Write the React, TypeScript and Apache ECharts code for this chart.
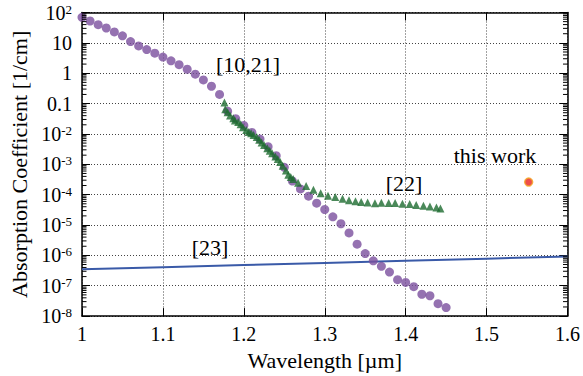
import React, { useEffect, useRef } from "react";
import * as echarts from "echarts";

// ---- data ----
const purpleX = [1.00, 1.01, 1.02, 1.03, 1.04, 1.05, 1.06, 1.07, 1.08, 1.09, 1.10, 1.11, 1.12, 1.13, 1.14, 1.15, 1.16, 1.17, 1.18, 1.19, 1.20, 1.21, 1.22, 1.23, 1.24, 1.25, 1.26, 1.27, 1.28, 1.29, 1.30, 1.31, 1.32, 1.33, 1.34, 1.35, 1.36, 1.37, 1.38, 1.39, 1.40, 1.41, 1.42, 1.43, 1.44, 1.45];
const purpleY = [69.2, 52.5, 39.8, 30.9, 22.9, 17.0, 11.0, 7.94, 6.03, 4.57, 3.39, 2.57, 1.91, 1.35, 0.933, 0.603, 0.372, 0.200, 0.0562, 0.0316, 0.0191, 0.0112, 0.00676, 0.0038, 0.00191, 7.94e-4, 2.82e-4, 1.55e-4, 8.91e-5, 5.25e-5, 3.24e-5, 1.86e-5, 1.1e-5, 5.5e-6, 2.34e-6, 1.15e-6, 6.61e-7, 4.37e-7, 2.82e-7, 1.58e-7, 1.29e-7, 9.33e-8, 5.25e-8, 4.68e-8, 2.57e-8, 1.91e-8];

const greenX = [1.176, 1.177, 1.180, 1.183, 1.187, 1.189, 1.193, 1.196, 1.199, 1.203, 1.206, 1.209, 1.212, 1.216, 1.219, 1.222, 1.225, 1.229, 1.232, 1.235, 1.239, 1.242, 1.245, 1.248, 1.252, 1.255, 1.258, 1.261, 1.267, 1.277, 1.286, 1.295, 1.304, 1.313, 1.322, 1.330, 1.338, 1.345, 1.353, 1.362, 1.370, 1.379, 1.387, 1.396, 1.405, 1.413, 1.422, 1.430, 1.438, 1.443];
const greenY = [0.108, 0.0655, 0.052, 0.0403, 0.0331, 0.0276, 0.0245, 0.021, 0.0167, 0.0136, 0.0115, 0.0106, 0.0093, 0.0079, 0.0064, 0.0052, 0.0043, 0.0034, 0.0028, 0.0023, 0.0018, 0.0015, 0.0012, 8.9e-4, 6.3e-4, 4.5e-4, 3.8e-4, 3.3e-4, 2.46e-4, 1.92e-4, 1.45e-4, 1.11e-4, 9.2e-5, 8.3e-5, 7.3e-5, 6.6e-5, 6.1e-5, 5.75e-5, 5.5e-5, 5.2e-5, 5.4e-5, 5.3e-5, 5.3e-5, 5.0e-5, 4.9e-5, 4.55e-5, 4.3e-5, 4.1e-5, 3.8e-5, 3.5e-5];

const blueX = [1.0, 1.1, 1.2, 1.3, 1.4, 1.5, 1.6];
const blueY = [3.5e-7, 4.1e-7, 4.8e-7, 5.6e-7, 6.6e-7, 7.8e-7, 9.2e-7];

const thisWorkX = [1.552];
const thisWorkY = [2.6e-4];

const xMin = 1.0;
const xMax = 1.6;
const xStep = 0.1;
const yMin = 1e-8;
const yMax = 1e2;
const minorMultipliers = [2, 3, 4, 5, 6, 7, 8, 9];
const decadeExponents = [-8, -7, -6, -5, -4, -3, -2, -1, 0, 1];

const annotations = [
  { text: "[10,21]", x: 248, y: 64 },
  { text: "this work", x: 495, y: 155 },
  { text: "[22]", x: 404, y: 183 },
  { text: "[23]", x: 210, y: 247 },
];

const FONT = "Liberation Serif";

export default function App() {
  const ref = useRef<HTMLDivElement>(null);

  useEffect(() => {
    document.body.style.margin = "0";
    if (!ref.current) return;
    const chart = echarts.init(ref.current, undefined, { renderer: "svg" });

    const minorTicks: number[][] = [];
    decadeExponents.forEach((e) => {
      minorMultipliers.forEach((m) => {
        minorTicks.push([xMin, m * Math.pow(10, e)]);
      });
    });

    const yLabel = (v: number) => {
      const e = Math.round(Math.log10(v));
      if (e === 1) return "10";
      if (e === 0) return "1";
      if (e === -1) return "0.1";
      return "{b|10}{s|" + e + "}";
    };

    const gridLine = { show: true, lineStyle: { color: "#444", width: 1, type: [1, 2] as any } };
    const axisLine = { show: true, onZero: false, lineStyle: { color: "#000", width: 1.5 } };

    const option: any = {
      animation: false,
      backgroundColor: "#fff",
      textStyle: { fontFamily: FONT },
      grid: { left: 82, right: 10.5, top: 12.5, bottom: 59.5, containLabel: false },
      xAxis: [
        {
          type: "value",
          min: xMin,
          max: xMax,
          interval: xStep,
          position: "bottom",
          name: "Wavelength [µm]",
          nameLocation: "middle",
          nameGap: 29,
          nameTextStyle: { fontFamily: FONT, fontSize: 22, color: "#000" },
          axisLine,
          axisTick: { show: true, inside: true, length: 8, lineStyle: { color: "#000", width: 1 } },
          axisLabel: {
            margin: 8,
            fontFamily: FONT,
            fontSize: 20,
            color: "#000",
            formatter: (v: number) => String(+v.toFixed(1)),
          },
          splitLine: gridLine,
        },
        {
          type: "value",
          min: xMin,
          max: xMax,
          interval: xStep,
          position: "top",
          axisLine,
          axisTick: { show: true, inside: true, length: 8, lineStyle: { color: "#000", width: 1 } },
          axisLabel: { show: false },
          splitLine: { show: false },
        },
      ],
      yAxis: [
        {
          type: "log",
          logBase: 10,
          min: yMin,
          max: yMax,
          interval: 1,
          position: "left",
          name: "Absorption Coefficient [1/cm]",
          nameLocation: "middle",
          nameGap: 48,
          nameTextStyle: { fontFamily: FONT, fontSize: 22, color: "#000" },
          axisLine,
          axisTick: { show: true, inside: true, length: 8, lineStyle: { color: "#000", width: 1 } },
          axisLabel: {
            margin: 10,
            fontFamily: FONT,
            fontSize: 20,
            color: "#000",
            align: "right",
            showMinLabel: true,
            showMaxLabel: true,
            hideOverlap: false,
            interval: 0,
            formatter: yLabel,
            rich: {
              b: { fontFamily: FONT, fontSize: 20, lineHeight: 20, color: "#000" },
              s: { fontFamily: FONT, fontSize: 13, lineHeight: 13, verticalAlign: "top", color: "#000" },
            },
          },
          splitLine: gridLine,
        },
        {
          type: "log",
          logBase: 10,
          min: yMin,
          max: yMax,
          interval: 1,
          position: "right",
          axisLine,
          axisTick: { show: true, inside: true, length: 8, lineStyle: { color: "#000", width: 1 } },
          axisLabel: { show: false },
          splitLine: { show: false },
        },
      ],
      series: [
        {
          type: "custom",
          silent: true,
          clip: false,
          data: minorTicks,
          encode: { x: 0, y: 1 },
          z: 5,
          renderItem: (params: any, api: any) => {
            const p = api.coord([api.value(0), api.value(1)]);
            const cs = params.coordSys;
            const st = { stroke: "#000", lineWidth: 1 };
            return {
              type: "group",
              children: [
                { type: "line", shape: { x1: cs.x, y1: p[1], x2: cs.x + 4.5, y2: p[1] }, style: st },
                { type: "line", shape: { x1: cs.x + cs.width, y1: p[1], x2: cs.x + cs.width - 4.5, y2: p[1] }, style: st },
              ],
            };
          },
        },
        {
          type: "line",
          name: "[23]",
          data: blueX.map((x, i) => [x, blueY[i]]),
          showSymbol: false,
          symbol: "none",
          lineStyle: { color: "#3a5aa8", width: 2 },
          z: 2,
        },
        {
          type: "scatter",
          name: "[10,21]",
          data: purpleX.map((x, i) => [x, purpleY[i]]),
          symbol: "circle",
          symbolSize: 9,
          itemStyle: { color: "#7b4f9e" },
          z: 3,
        },
        {
          type: "scatter",
          name: "[22]",
          data: greenX.map((x, i) => [x, greenY[i]]),
          symbol: "triangle",
          symbolSize: 8,
          itemStyle: { color: "#1d6b30" },
          z: 4,
        },
        {
          type: "scatter",
          name: "this work",
          data: thisWorkX.map((x, i) => [x, thisWorkY[i]]),
          symbol: "circle",
          symbolSize: 8,
          itemStyle: { color: "#e8221e", borderColor: "#f5a623", borderWidth: 1.5 },
          z: 6,
        },
      ],
      graphic: annotations.map((a) => ({
        type: "text",
        x: a.x,
        y: a.y,
        z: 10,
        style: {
          text: a.text,
          fontFamily: FONT,
          fontSize: 22,
          fill: "#000",
          textAlign: "center",
          textVerticalAlign: "middle",
        },
      })),
    };

    chart.setOption(option);
    return () => chart.dispose();
  }, []);

  return <div ref={ref} style={{ width: 583, height: 376 }} />;
}
